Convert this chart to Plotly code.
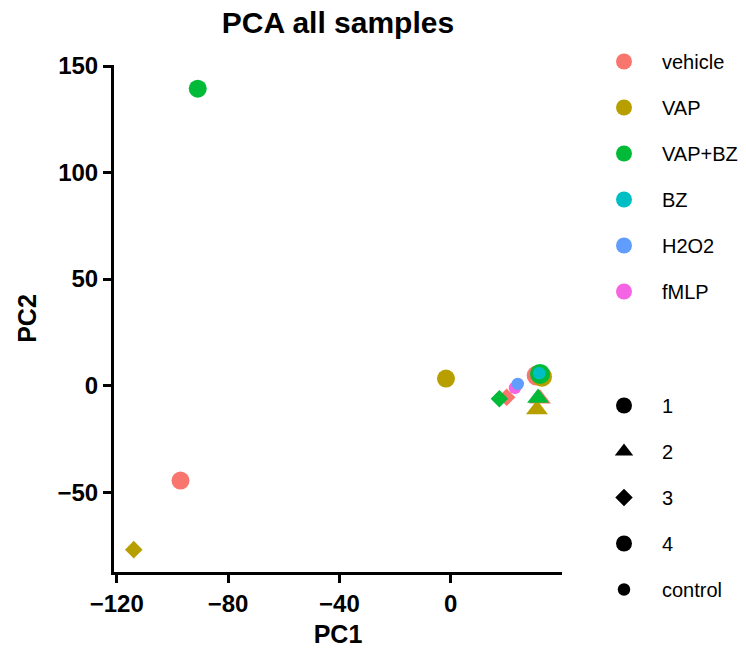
import plotly.graph_objects as go

# ---- data ----
groups = ["vehicle", "VAP", "VAP+BZ", "BZ", "H2O2", "fMLP"]
group_colors = ["#F8766D", "#B79F00", "#00BA38", "#00BFC4", "#619CFF", "#F564E3"]

replicates = ["1", "2", "3", "4", "control"]
rep_symbols = ["circle", "triangle-up", "diamond", "circle", "circle"]
rep_sizes = [18, 19, 13.5, 20, 12.5]

# samples (drawn in this order)
sample_group = ["vehicle", "vehicle", "vehicle", "vehicle",
                "VAP", "VAP", "VAP", "VAP",
                "fMLP", "H2O2",
                "VAP+BZ", "VAP+BZ", "VAP+BZ", "VAP+BZ",
                "BZ"]
sample_rep = ["1", "2", "3", "4",
              "1", "2", "3", "4",
              "control", "control",
              "1", "2", "3", "4",
              "control"]
pc1 = [-97.1, 32.1, 20.1, 30.9,
       -1.7, 31.0, -113.9, 32.8,
       23.1, 24.1,
       -90.9, 31.4, 17.5, 32.1,
       31.8]
pc2 = [-44.6, -6.2, -5.5, 4.7,
       3.3, -11.2, -77.0, 4.2,
       -1.1, 0.8,
       139.4, -5.8, -6.2, 5.5,
       5.8]

x_ticks = [-120, -80, -40, 0]
y_ticks = [-50, 0, 50, 100, 150]

FONT = "Liberation Sans, Arial, sans-serif"

fig = go.Figure()

cmap = dict(zip(groups, group_colors))
smap = dict(zip(replicates, rep_symbols))
zmap = dict(zip(replicates, rep_sizes))

for i in range(len(pc1)):
    g, r = sample_group[i], sample_rep[i]
    fig.add_trace(go.Scatter(
        x=[pc1[i]], y=[pc2[i]], mode="markers",
        marker=dict(color=cmap[g], symbol=smap[r], size=zmap[r], line=dict(width=0)),
        showlegend=False, hoverinfo="skip"))

# colour legend
for g, c in zip(groups, group_colors):
    fig.add_trace(go.Scatter(
        x=[None], y=[None], mode="markers", name=g, legend="legend",
        legendgroup="g_" + g,
        marker=dict(color=c, symbol="circle", size=16)))

# shape legend
for r, s, z in zip(replicates, rep_symbols, rep_sizes):
    fig.add_trace(go.Scatter(
        x=[None], y=[None], mode="markers", name=r, legend="legend2",
        legendgroup="r_" + r,
        marker=dict(color="black", symbol=s, size=z)))

axis_common = dict(
    showgrid=False, zeroline=False, showline=True, linecolor="black", linewidth=3,
    ticks="outside", ticklen=8, tickwidth=3, tickcolor="black",
    tickfont=dict(family=FONT, size=24, color="black", weight="bold"),
    title_font=dict(family=FONT, size=25, color="black", weight="bold"),
)

fig.update_layout(
    width=746, height=655,
    margin=dict(l=114, r=184, t=65, b=83),
    paper_bgcolor="white", plot_bgcolor="white",
    title=dict(text="PCA all samples", x=338 / 746, xanchor="center", y=1 - 22 / 655, yanchor="middle",
               font=dict(family=FONT, size=30, color="black", weight="bold")),
    xaxis=dict(range=[-121, 40], tickvals=x_ticks, ticktext=["\u2212120", "\u221280", "\u221240", "0"],
               title=dict(text="PC1", standoff=10), **axis_common),
    yaxis=dict(range=[-87.5, 150.5], tickvals=y_ticks, ticktext=["\u221250", "0", "50", "100", "150"],
               title=dict(text="PC2", standoff=14), **axis_common),
    legend=dict(x=586 / 746, xref="container", xanchor="left", y=1 - 42 / 655, yref="container",
                yanchor="top", itemwidth=66, tracegroupgap=17, traceorder="grouped",
                font=dict(family=FONT, size=20, color="black"), bgcolor="rgba(0,0,0,0)"),
    legend2=dict(x=586 / 746, xref="container", xanchor="left", y=1 - 386 / 655, yref="container",
                 yanchor="top", itemwidth=66, tracegroupgap=17, traceorder="grouped",
                 itemsizing="trace",
                 font=dict(family=FONT, size=20, color="black"), bgcolor="rgba(0,0,0,0)"),
)

fig.write_html("out.html")
